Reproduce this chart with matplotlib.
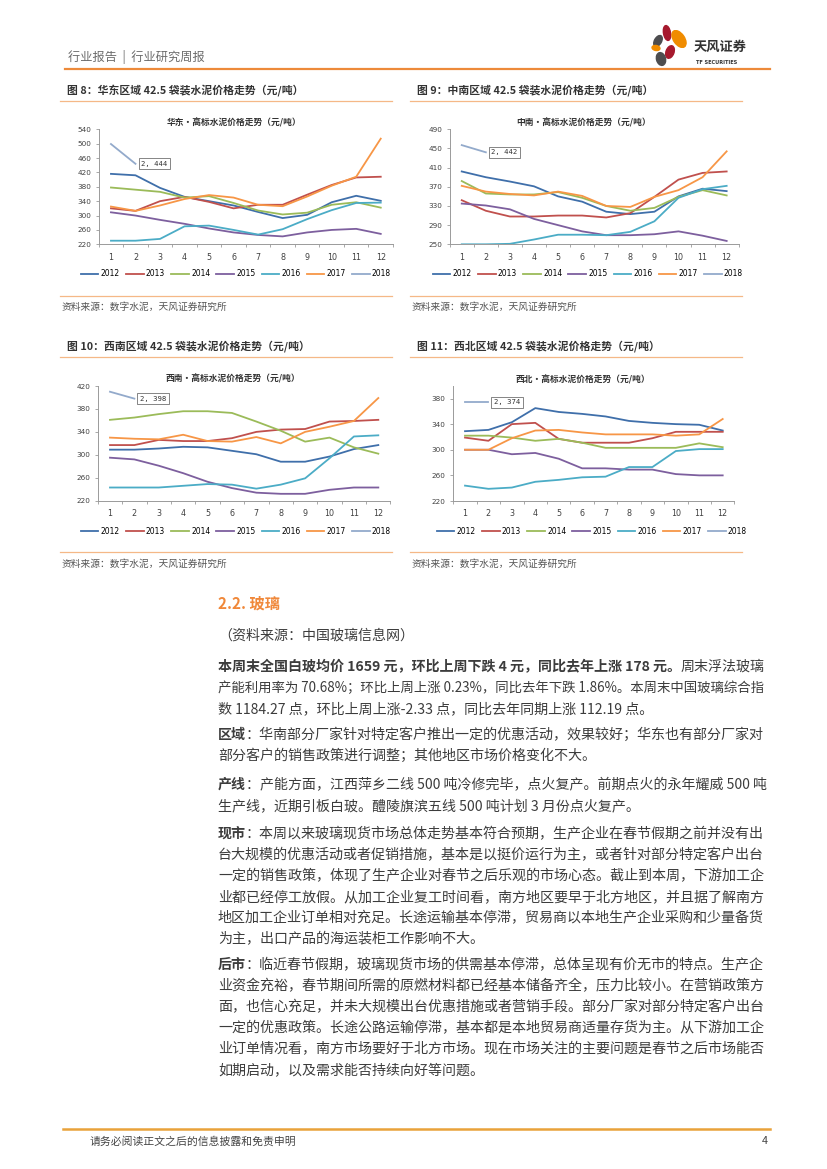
import matplotlib
matplotlib.use("Agg")
import matplotlib.pyplot as plt
from matplotlib.patches import Ellipse

plt.rcParams['font.family'] = ['Noto Sans CJK SC', 'DejaVu Sans']

W, H = 827, 1169

months = list(range(1, 13))
years = ['2012', '2013', '2014', '2015', '2016', '2017', '2018']
year_colors = ['#3F6FAA', '#C0504D', '#9BBB59', '#7D5F9E', '#4BACC6', '#F79646', '#93AACB']

# 华东
east = [
    [416, 412, 377, 352, 340, 328, 310, 293, 302, 337, 355, 341],
    [320, 313, 340, 352, 338, 320, 330, 330, 358, 385, 406, 408],
    [378, 372, 366, 350, 354, 335, 314, 303, 308, 330, 337, 322],
    [309, 300, 288, 277, 264, 253, 246, 242, 253, 260, 263, 249],
    [230, 230, 235, 270, 272, 260, 247, 262, 290, 315, 335, 336],
    [325, 313, 328, 346, 357, 350, 330, 326, 353, 383, 408, 514],
    [499, 444],
]
# 中南
central = [
    [402, 390, 381, 371, 350, 339, 318, 313, 318, 350, 366, 361],
    [342, 320, 308, 308, 310, 310, 306, 315, 349, 385, 399, 402],
    [382, 356, 354, 354, 359, 347, 330, 320, 326, 349, 363, 352],
    [335, 331, 323, 303, 290, 277, 269, 269, 271, 277, 268, 257],
    [250, 250, 251, 260, 270, 270, 269, 276, 298, 347, 365, 372],
    [372, 360, 355, 352, 360, 351, 330, 328, 349, 363, 390, 444],
    [457, 442],
]
# 西南
southwest = [
    [309, 309, 311, 314, 313, 307, 301, 288, 288, 297, 310, 317],
    [317, 317, 326, 324, 324, 329, 340, 344, 345, 358, 359, 361],
    [361, 365, 371, 376, 376, 373, 358, 342, 323, 330, 313, 302],
    [295, 292, 281, 268, 253, 242, 234, 232, 232, 239, 243, 243],
    [243, 243, 243, 246, 249, 248, 241, 248, 259, 294, 332, 334],
    [330, 328, 327, 335, 324, 323, 331, 320, 340, 349, 359, 399],
    [410, 398],
]
# 西北
northwest = [
    [329, 331, 343, 365, 359, 356, 352, 345, 342, 340, 339, 330],
    [319, 314, 340, 342, 317, 311, 311, 311, 318, 328, 328, 328],
    [322, 322, 319, 314, 317, 311, 303, 303, 303, 303, 310, 304],
    [300, 300, 293, 295, 286, 271, 271, 269, 269, 262, 260, 260],
    [244, 239, 241, 250, 253, 257, 258, 273, 273, 298, 301, 301],
    [300, 300, 318, 330, 331, 327, 324, 324, 324, 322, 324, 348],
    [374, 374],
]

fig = plt.figure(figsize=(W / 100, H / 100), dpi=100)
page = fig.add_axes([0, 0, 1, 1])
page.set_xlim(0, W)
page.set_ylim(H, 0)
page.axis('off')

ORANGE = '#ED8A3A'
LIGHT_OR = '#F5B887'
TXT = '#3C3C3C'

# ---- header ----
page.text(68, 57, '行业报告  |  行业研究周报', fontsize=8.8, color='#6B6B6B', va='center')
page.plot([65, 770], [69, 69], color=ORANGE, lw=1.6)
petals = [
    ((667, 33), 7, 15, -10, '#A6192E'),
    ((679, 39), 11, 19, -35, '#F08C00'),
    ((658, 41), 7, 12, 30, '#4D4D4F'),
    ((656, 48), 8, 5, 10, '#F08C00'),
    ((670, 52), 8, 13, 20, '#A6192E'),
    ((661, 59), 9, 13, -15, '#4D4D4F'),
]
for c, w, h, a, col in petals:
    page.add_patch(Ellipse(c, w, h, angle=a, color=col, zorder=3))
page.text(694, 47, '天风证券', fontsize=9.5, fontweight='bold', color='#333333', va='center')
page.text(696, 63, 'TF SECURITIES', fontsize=3.6, fontweight='bold', color='#333333',
          va='center', family='DejaVu Sans')

# ---- charts ----
panels = [
    dict(data=east, fig_title='图 8：华东区域 42.5 袋装水泥价格走势（元/吨）',
         title='华东•高标水泥价格走势（元/吨）', box=(98.7, 393, 129.3, 244.3),
         ylim=(220, 540), yticks=range(220, 541, 40), left=60, right=392, top=90,
         title_xy=(234, 123), legend_xy=(236, 274), label='2, 444'),
    dict(data=central, fig_title='图 9：中南区域 42.5 袋装水泥价格走势（元/吨）',
         title='中南•高标水泥价格走势（元/吨）', box=(449.7, 738.7, 129.3, 244.3),
         ylim=(250, 490), yticks=range(250, 491, 40), left=410, right=742, top=90,
         title_xy=(584, 123), legend_xy=(588, 274), label='2, 442'),
    dict(data=southwest, fig_title='图 10：西南区域 42.5 袋装水泥价格走势（元/吨）',
         title='西南•高标水泥价格走势（元/吨）', box=(97.8, 390.5, 386, 500.7),
         ylim=(220, 420), yticks=range(220, 421, 40), left=60, right=392, top=346.5,
         title_xy=(233, 379), legend_xy=(236, 531), label='2, 398'),
    dict(data=northwest, fig_title='图 11：西北区域 42.5 袋装水泥价格走势（元/吨）',
         title='西北•高标水泥价格走势（元/吨）', box=(453.3, 734.4, 385.7, 501),
         ylim=(220, 400), yticks=range(220, 381, 40), left=410, right=742, top=346.5,
         title_xy=(583, 380), legend_xy=(592, 531), label='2, 374'),
]

for p in panels:
    top = p['top']
    page.text(p['left'] + 7, top, p['fig_title'], fontsize=7.8, fontweight='bold',
              color='#333333', va='center')
    page.plot([p['left'], p['right']], [top + 10.5, top + 10.5], color=LIGHT_OR, lw=0.9)
    page.plot([p['left'], p['right']], [top + 205.5, top + 205.5], color=LIGHT_OR, lw=0.9)
    page.text(p['left'] + 2, top + 217, '资料来源：数字水泥，天风证券研究所', fontsize=7,
              color='#555555', va='center')
    page.text(p['title_xy'][0], p['title_xy'][1], p['title'], fontsize=6.3, fontweight='bold',
              color='#333333', ha='center', va='center')

    x0, x1, y0, y1 = p['box']
    ax = fig.add_axes([x0 / W, 1 - y1 / H, (x1 - x0) / W, (y1 - y0) / H])
    ax.patch.set_alpha(0)
    handles = []
    for yr, col, vals in zip(years, year_colors, p['data']):
        ln, = ax.plot(months[:len(vals)], vals, color=col, lw=1.3, label=yr)
        handles.append(ln)
    last = p['data'][-1]
    ax.annotate(p['label'], xy=(2, last[1]), xytext=(4, 0), textcoords='offset points',
                ha='left', va='center', fontsize=5.2, family='DejaVu Sans Mono', color='#333333',
                bbox=dict(boxstyle='square,pad=0.35', fc='white', ec='#555555', lw=0.5))
    ax.set_xlim(0.5, 12.5)
    ax.set_ylim(*p['ylim'])
    ax.set_yticks(list(p['yticks']))
    ax.set_xticks(months)
    ax.set_xticks([m + 0.5 for m in range(0, 13)], minor=True)
    for s in ['top', 'right']:
        ax.spines[s].set_visible(False)
    for s in ['left', 'bottom']:
        ax.spines[s].set_color('#9A9A9A')
        ax.spines[s].set_linewidth(0.7)
    ax.tick_params(axis='y', length=2.5, width=0.6, color='#9A9A9A', labelsize=5.2,
                   labelcolor='#404040', pad=3)
    ax.tick_params(axis='x', which='major', length=0, labelsize=5.8, labelcolor='#404040', pad=6)
    ax.tick_params(axis='x', which='minor', length=2.5, width=0.6, color='#9A9A9A')
    for lab in ax.get_xticklabels() + ax.get_yticklabels():
        lab.set_family('DejaVu Sans')
    ax.legend(handles=handles, loc='center', bbox_to_anchor=p['legend_xy'],
              bbox_transform=page.transData, ncol=7, frameon=False,
              handlelength=2.3, handletextpad=0.3, columnspacing=0.8,
              prop={'family': 'DejaVu Sans', 'size': 5.5})

# ---- body text ----
page.text(218, 604, '2.2. 玻璃', fontsize=11, color='#F0883A', fontweight='bold', va='center')

BODY = 10.1
XL = 218
TEXT_W = 547
# (y, bold prefix, rest, justified)
lines = [
    (636, '', '（资料来源：中国玻璃信息网）', False),
    (667, '本周末全国白玻均价 1659 元，环比上周下跌 4 元，同比去年上涨 178 元。', '周末浮法玻璃', True),
    (688, '', '产能利用率为 70.68%；环比上周上涨 0.23%，同比去年下跌 1.86%。本周末中国玻璃综合指', True),
    (709, '', '数 1184.27 点，环比上周上涨-2.33 点，同比去年同期上涨 112.19 点。', False),
    (735, '区域', '：华南部分厂家针对特定客户推出一定的优惠活动，效果较好；华东也有部分厂家对', True),
    (756, '', '部分客户的销售政策进行调整；其他地区市场价格变化不大。', False),
    (785, '产线', '：产能方面，江西萍乡二线 500 吨冷修完毕，点火复产。前期点火的永年耀威 500 吨', True),
    (806, '', '生产线，近期引板白玻。醴陵旗滨五线 500 吨计划 3 月份点火复产。', False),
    (834, '现市', '：本周以来玻璃现货市场总体走势基本符合预期，生产企业在春节假期之前并没有出', True),
    (855, '', '台大规模的优惠活动或者促销措施，基本是以挺价运行为主，或者针对部分特定客户出台', True),
    (876, '', '一定的销售政策，体现了生产企业对春节之后乐观的市场心态。截止到本周，下游加工企', True),
    (897, '', '业都已经停工放假。从加工企业复工时间看，南方地区要早于北方地区，并且据了解南方', True),
    (918, '', '地区加工企业订单相对充足。长途运输基本停滞，贸易商以本地生产企业采购和少量备货', True),
    (939, '', '为主，出口产品的海运装柜工作影响不大。', False),
    (965, '后市', '：临近春节假期，玻璃现货市场的供需基本停滞，总体呈现有价无市的特点。生产企', True),
    (986, '', '业资金充裕，春节期间所需的原燃材料都已经基本储备齐全，压力比较小。在营销政策方', True),
    (1007, '', '面，也信心充足，并未大规模出台优惠措施或者营销手段。部分厂家对部分特定客户出台', True),
    (1028, '', '一定的优惠政策。长途公路运输停滞，基本都是本地贸易商适量存货为主。从下游加工企', True),
    (1049, '', '业订单情况看，南方市场要好于北方市场。现在市场关注的主要问题是春节之后市场能否', True),
    (1070, '', '如期启动，以及需求能否持续向好等问题。', False),
]
renderer = fig.canvas.get_renderer()
for y, bold, rest, justify in lines:
    tb = None
    if bold:
        tb = page.text(XL, y, bold, fontsize=BODY, fontweight='bold', color=TXT, va='center')
    tr = page.text(XL, y, rest, fontsize=BODY, color=TXT, va='center')
    wb = tb.get_window_extent(renderer).width if tb else 0
    total = wb + tr.get_window_extent(renderer).width
    size = BODY
    if justify:
        size = BODY * min(max(TEXT_W / total, 0.92), 1.06)
        tr.set_fontsize(size)
        if tb:
            tb.set_fontsize(size)
            wb = tb.get_window_extent(renderer).width
    tr.set_x(XL + wb)

# ---- footer ----
page.plot([63, 770], [1129, 1129], color='#E9A23B', lw=1.8)
page.text(90, 1141, '请务必阅读正文之后的信息披露和免责申明', fontsize=7.8, color='#444444', va='center')
page.text(768, 1141, '4', fontsize=7.8, color='#444444', va='center', ha='right')

fig.savefig('out.png', dpi=100)
